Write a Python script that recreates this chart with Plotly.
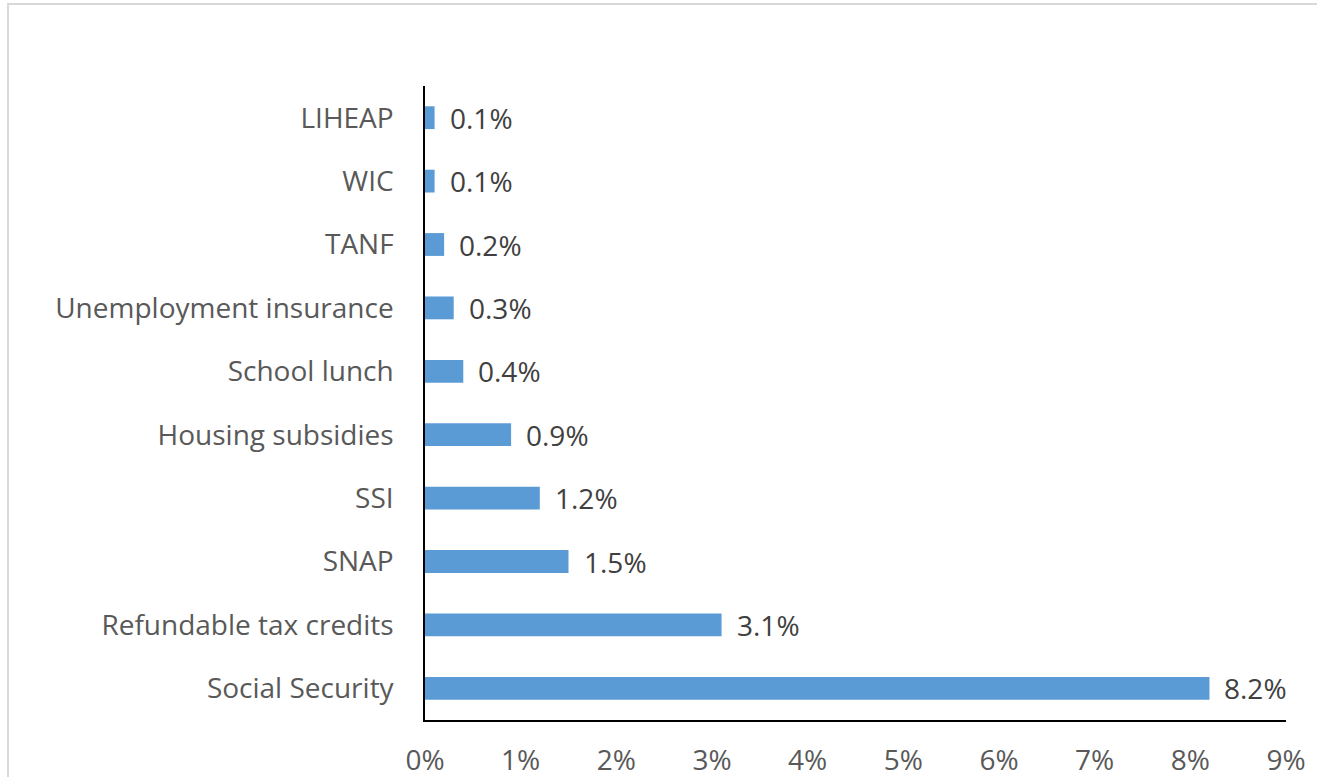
import plotly.graph_objects as go

categories = ["Social Security", "Refundable tax credits", "SNAP", "SSI", "Housing subsidies",
              "School lunch", "Unemployment insurance", "TANF", "WIC", "LIHEAP"]
values = [8.2, 3.1, 1.5, 1.2, 0.9, 0.4, 0.3, 0.2, 0.1, 0.1]
value_labels = ["8.2%", "3.1%", "1.5%", "1.2%", "0.9%", "0.4%", "0.3%", "0.2%", "0.1%", "0.1%"]
x_ticks = [0, 1, 2, 3, 4, 5, 6, 7, 8, 9]
x_tick_labels = ["0%", "1%", "2%", "3%", "4%", "5%", "6%", "7%", "8%", "9%"]

W, H = 1317, 777
L, R, T, B = 425, 31, 86, 57
pw, ph = W - L - R, H - T - B

def px_x(p):
    return (p - L) / pw

def px_y(p):
    return (H - B - p) / ph

FONT = "Open Sans"
FS = 28

fig = go.Figure()
fig.add_trace(go.Bar(
    x=values, y=categories, orientation="h",
    marker=dict(color="#5b9bd5", line=dict(width=0)),
    width=0.36, hoverinfo="skip",
))

for c, v, t in zip(categories, values, value_labels):
    fig.add_annotation(x=v, y=c, text=t, showarrow=False, xanchor="left",
                       xshift=13, font=dict(family=FONT, size=FS, color="#404040"))

fig.add_shape(type="rect", xref="paper", yref="paper",
              x0=px_x(8), x1=px_x(1340), y0=px_y(4), y1=px_y(800),
              line=dict(color="#d9d9d9", width=2), fillcolor="rgba(0,0,0,0)", layer="below")

fig.update_layout(
    width=W, height=H, autosize=False,
    margin=dict(l=L, r=R, t=T, b=B, pad=0),
    paper_bgcolor="white", plot_bgcolor="white",
    showlegend=False,
    font=dict(family=FONT, size=FS, color="#595959"),
    xaxis=dict(range=[0, 9], tickvals=x_ticks, ticktext=x_tick_labels, automargin=False,
               showgrid=False, zeroline=False, showline=True, linecolor="black", linewidth=1.5,
               ticks="", ticklabelstandoff=15, tickfont=dict(family=FONT, size=FS, color="#595959"),
               fixedrange=True),
    yaxis=dict(range=[-0.5, 9.5], showgrid=False, zeroline=False, showline=True, automargin=False,
               linecolor="black", linewidth=1.5, ticks="", ticklabelstandoff=24,
               tickfont=dict(family=FONT, size=FS, color="#595959"), fixedrange=True),
)

fig.write_html("out.html", config={"displayModeBar": False})
